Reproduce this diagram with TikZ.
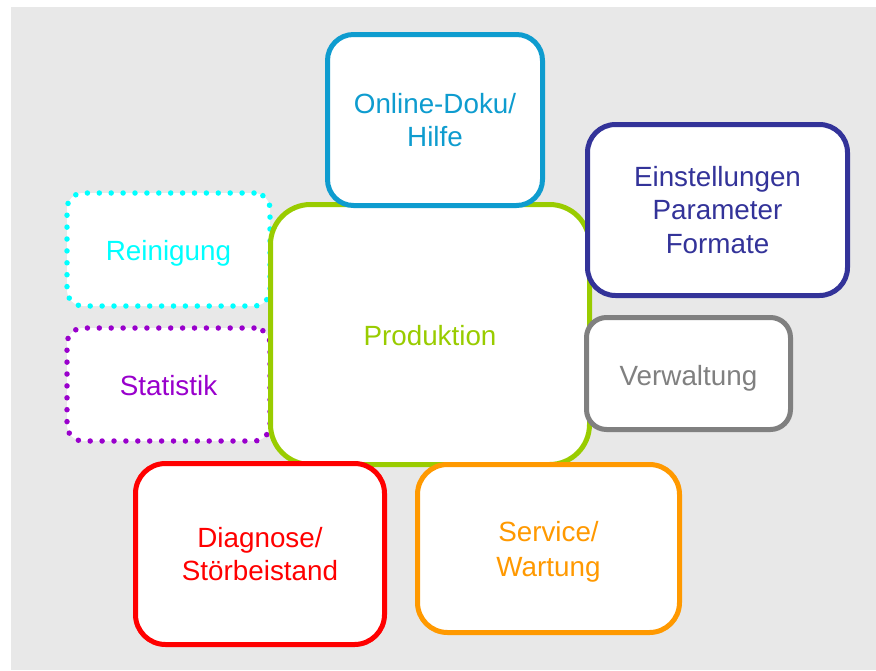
\documentclass[tikz,border=0pt]{standalone}
\usepackage{fontspec}
\setmainfont{Liberation Sans}
\definecolor{bgc}{HTML}{E8E8E8}
\definecolor{cblue}{HTML}{0E9CCF}
\definecolor{cnavy}{HTML}{333399}
\definecolor{ccyan}{HTML}{00FFFF}
\definecolor{cpurple}{HTML}{9900CC}
\definecolor{cgreen}{HTML}{99CC00}
\definecolor{cgray}{HTML}{808080}
\definecolor{cred}{HTML}{FF0000}
\definecolor{corange}{HTML}{FF9900}
\tikzset{
  box/.style={draw, fill=white, line width=5pt, align=center, inner sep=0pt,
    font=\fontsize{27.8}{33.5}\selectfont},
  dotbox/.style={box, line width=5.5pt, dash pattern=on 0pt off 11.9pt, line cap=round},
  oneline/.style={text height=27.5pt, text depth=6.5pt}
}
\begin{document}
\begin{tikzpicture}[x=1pt,y=-1pt]
\useasboundingbox (0,0) rectangle (876,670);
\fill[bgc] (11,7) rectangle (876,670);
\node[dotbox, oneline, draw=ccyan, text=ccyan, minimum width=203pt, minimum height=113pt, rounded corners=16pt] (rein) at (168.5,249.5) {Reinigung};
\node[dotbox, oneline, draw=cpurple, text=cpurple, minimum width=203pt, minimum height=113pt, rounded corners=16pt] (stat) at (168.5,384.5) {Statistik};
\node[box, oneline, draw=cgreen, text=cgreen, minimum width=319pt, minimum height=260pt, rounded corners=40pt] (prod) at (430,334.5) {Produktion};
\node[box, draw=cblue, text=cblue, minimum width=215pt, minimum height=171pt, rounded corners=26pt] (doku) at (435,120) {Online-Doku/\\Hilfe};
\node[box, draw=cnavy, text=cnavy, minimum width=260pt, minimum height=171pt, rounded corners=28pt] (einst) at (717.5,210) {Einstellungen\\Parameter\\Formate};
\node[box, text height=28.5pt, text depth=5.5pt, draw=cgray, text=cgray, minimum width=204pt, minimum height=112pt, rounded corners=20pt] (verw) at (688.5,373.5) {Verwaltung};
\node[box, draw=cred, text=cred, minimum width=249pt, minimum height=181pt, rounded corners=30pt] (diag) at (260,554) {Diagnose/\\Störbeistand};
\node[box, draw=corange, text=corange, minimum width=262pt, minimum height=168pt, rounded corners=30pt] (serv) at (548.5,548.5) {\rule{0pt}{26.5pt}Service/\\[1.5pt]Wartung};
\end{tikzpicture}
\end{document}
